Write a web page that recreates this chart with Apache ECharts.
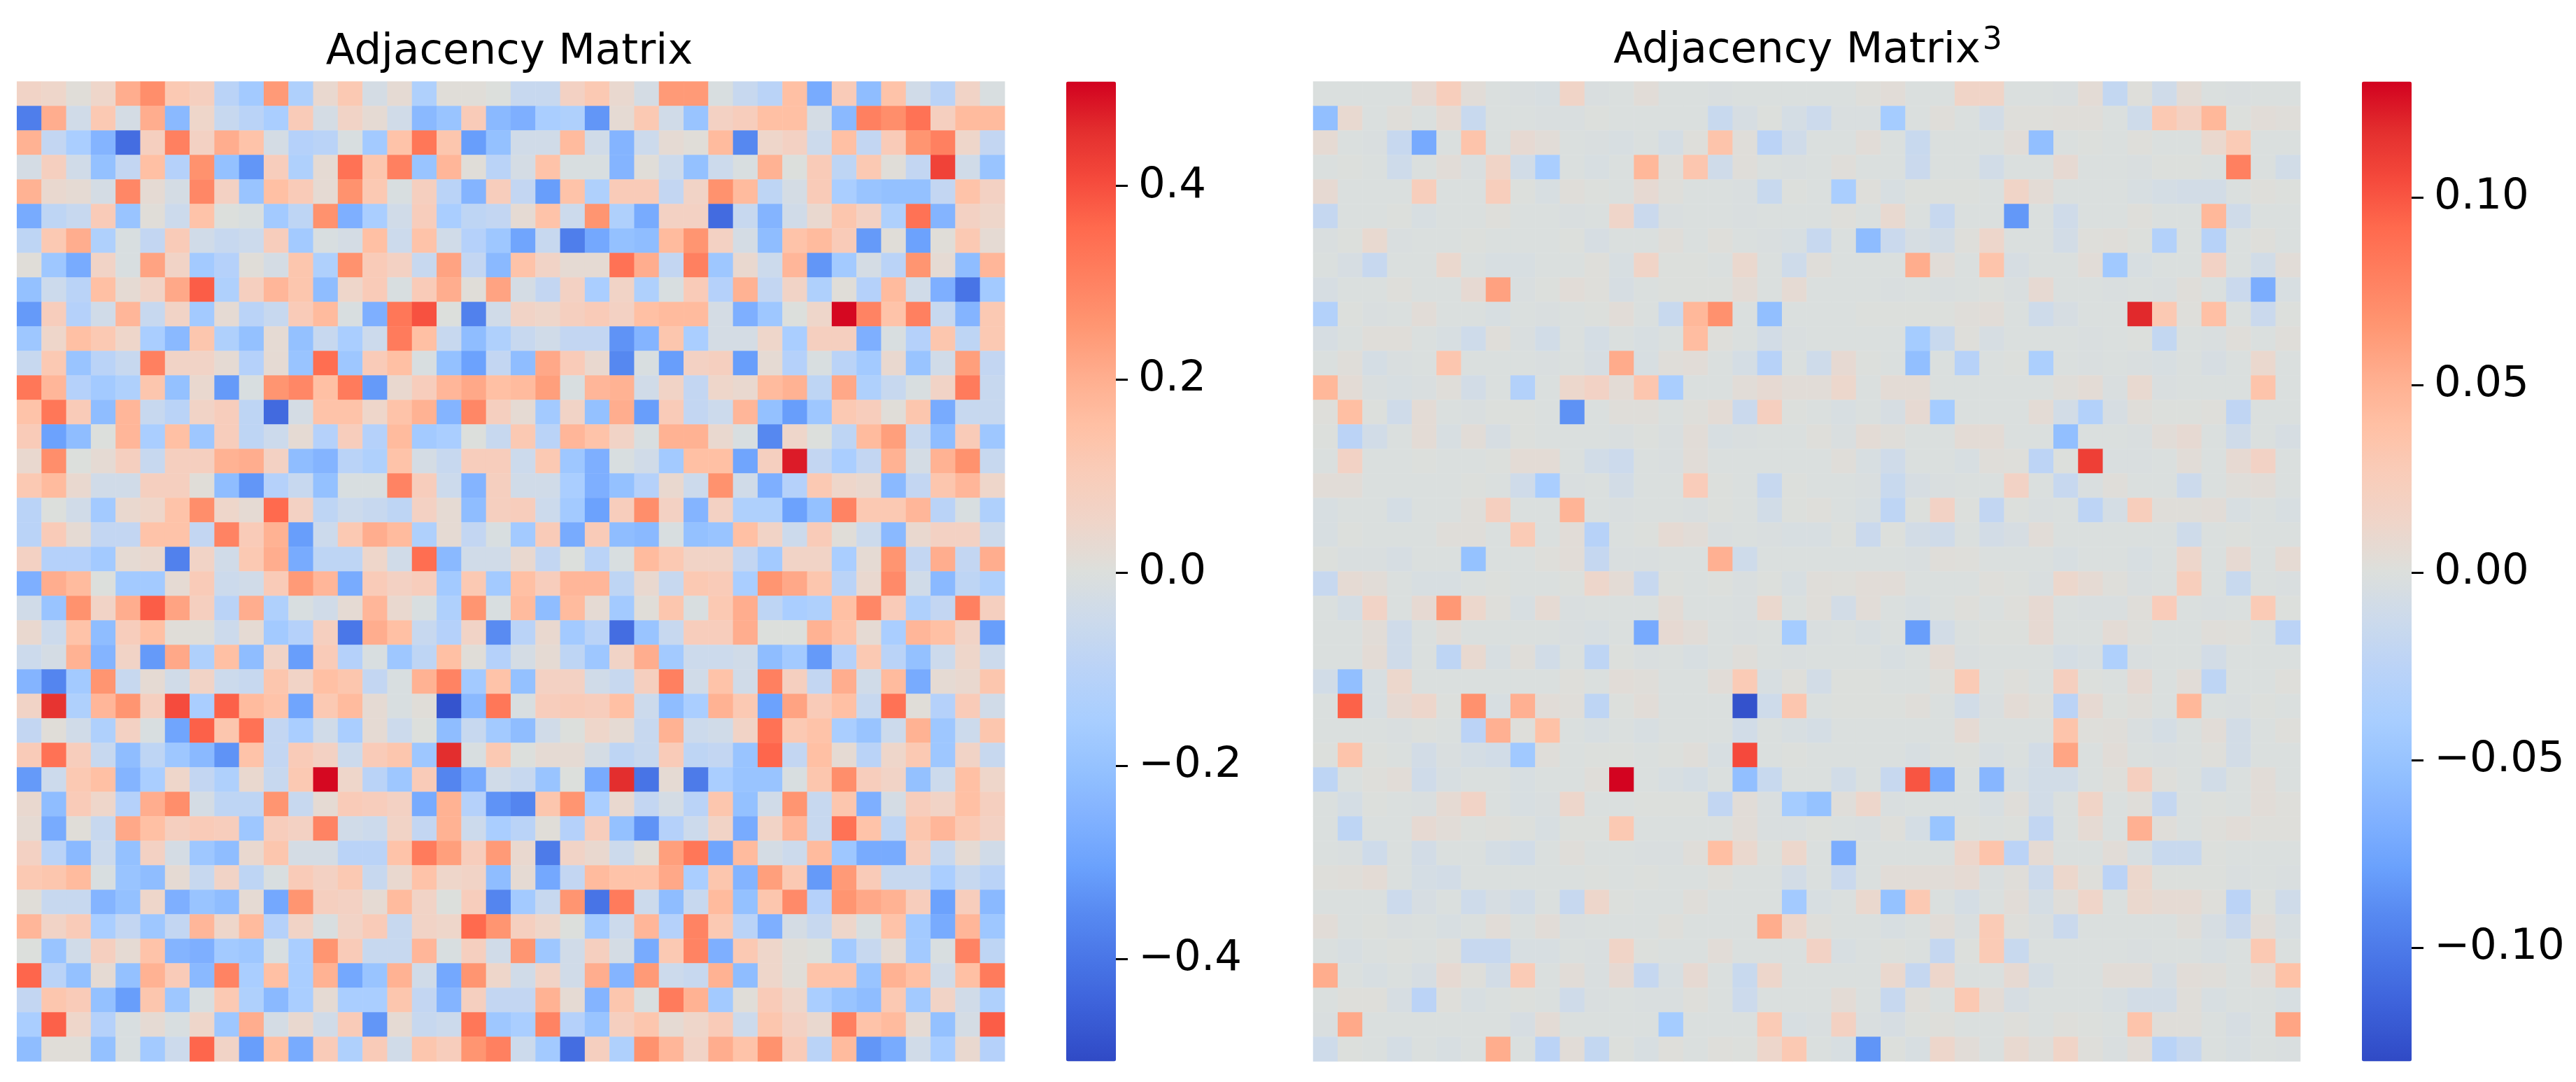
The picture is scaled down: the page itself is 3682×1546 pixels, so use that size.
<!DOCTYPE html>
<html>
<head>
<meta charset="utf-8">
<style>html,body{margin:0;padding:0;background:#fff}#c{width:3682px;height:1546px}</style>
<script src="https://cdn.jsdelivr.net/npm/echarts@6/dist/echarts.min.js"></script>
</head>
<body>
<div id="c"></div>
<script>
// Values: left panel in hundredths, right panel in thousandths.
const adjacencyRows = [
[5,4,1,4,17,24,10,7,-8,-12,21,-10,3,10,-2,2,-10,1,1,0,-5,-5,6,10,3,-2,21,21,-1,-5,-8,13,-20,9,-16,12,-3,-8,5,-1],
[-33,17,-3,10,-2,17,-17,4,-5,-8,-11,9,-2,5,2,-3,-17,-14,9,-17,-19,-11,-10,-26,2,10,-3,-14,6,8,13,13,-2,-17,28,24,31,7,14,14],
[16,-6,-11,-18,-40,7,28,6,17,12,-2,-9,-8,-1,-12,12,30,11,-24,-15,-3,-3,14,-3,-18,-4,2,1,14,-30,4,6,-4,13,-6,9,22,28,4,-6],
[-2,7,-3,-15,-6,13,-9,23,-15,-26,8,-10,2,31,11,28,-14,15,1,-8,-2,12,-1,-1,-18,1,-4,-15,-4,-1,16,0,9,-7,10,1,-6,42,-3,-14],
[16,3,2,-2,26,2,-2,26,6,-14,13,9,2,23,10,-1,7,-8,-18,8,-6,-24,12,-10,9,9,-6,5,23,14,-7,-2,9,-11,-14,-15,-15,-6,12,6],
[-20,-7,-5,9,-14,1,-4,12,0,-1,-12,-7,23,-19,-11,-3,8,-11,-7,-6,2,12,-4,22,-10,-20,6,6,-41,-5,-18,-3,3,11,6,-10,31,-18,6,4],
[-7,10,17,-10,-1,-6,9,-3,-5,-4,8,-12,-1,-2,13,-4,12,-3,-9,-13,-22,-5,-33,-21,-15,-16,14,22,6,-2,-16,12,14,9,-25,1,-23,1,10,2],
[1,-13,-20,5,-1,19,5,-12,-9,1,-2,11,-10,23,9,6,-5,19,-6,-17,12,5,2,2,31,17,-6,28,-13,3,-4,15,-26,-12,-2,-8,22,2,-16,15],
[-15,-4,-8,13,2,5,18,36,-10,7,15,11,-16,4,9,-1,9,17,1,19,-2,-6,6,-11,5,-10,-1,9,-9,16,-6,5,-10,1,-9,14,-3,-19,-36,-12],
[-25,8,-9,-3,15,-5,5,-12,2,-8,-5,9,14,-1,-19,30,39,0,-32,-3,5,4,7,9,6,13,14,14,-2,-19,-13,0,4,50,27,12,28,-5,-18,10],
[-13,4,13,10,4,-11,-17,11,-10,-15,2,-15,-5,-11,-4,29,13,-5,-16,-10,-5,-3,-6,-6,-27,-18,11,-11,-2,-2,4,-11,7,7,-19,-1,-9,11,-7,10],
[-5,10,-14,-8,-5,28,5,5,2,-9,2,-14,32,-13,9,13,-1,-15,-23,-6,-16,18,9,3,-30,-1,-24,6,7,-24,2,-9,-1,-8,-12,3,-14,-3,20,-6],
[30,15,-9,-12,-10,11,-15,3,-25,-1,22,26,13,29,-25,3,8,15,18,13,14,20,-1,15,16,-3,5,-6,4,3,14,16,-7,18,-10,-5,-1,5,29,-5],
[12,30,9,-16,15,-5,-8,5,8,-7,-42,-2,12,12,4,12,16,-18,26,7,2,-12,5,-15,17,-24,9,-6,-4,15,-15,-24,-13,10,8,1,11,-20,-5,-5],
[9,-23,-16,0,15,-11,13,-13,8,-7,-4,2,-9,8,-9,14,-12,-11,0,-5,10,-8,15,12,5,-1,16,16,3,-1,-30,4,0,-7,14,20,-5,-16,9,-13],
[3,24,0,2,7,-5,7,7,16,17,6,-16,-18,-8,-10,12,-2,-5,8,8,-4,10,-13,-19,-1,-3,-12,13,13,-22,7,48,-6,-11,-6,16,-2,16,23,-5],
[10,14,3,-3,-3,7,7,1,-16,-26,-9,-5,-15,-1,-1,27,8,-4,-18,7,-3,-3,-11,-19,-15,-9,3,-4,23,-3,-19,-9,10,4,3,-17,-6,11,15,4],
[-8,0,-3,-12,3,4,12,24,4,2,33,6,-7,-4,-5,-7,6,2,-16,7,8,-4,-12,-23,8,24,6,-18,6,-10,-10,-23,-15,27,10,10,15,-8,-1,-10],
[-8,9,2,-6,-6,12,12,-6,27,9,16,-24,-4,10,17,14,-10,2,-6,-1,-12,9,-20,9,-16,-17,-1,-15,-14,13,5,-4,9,1,-4,-17,3,6,6,-4],
[6,-9,-9,-12,2,3,-32,5,-3,10,17,-20,-7,-7,4,-3,32,-17,-3,-3,3,-6,0,-8,-1,14,10,5,5,-6,-12,5,5,-11,2,22,-6,17,-6,17],
[-19,17,14,0,-12,-12,2,9,-4,-3,9,21,15,-20,9,6,8,-12,10,-12,13,8,15,15,-7,3,-5,10,9,-11,22,18,11,-8,3,25,-3,-17,-7,-10],
[-3,-14,23,5,17,36,19,7,-8,17,-10,-1,-3,2,15,3,-1,-10,22,-1,14,-16,14,2,-12,1,11,-1,10,17,-7,-11,-10,13,26,9,-10,-6,28,7],
[3,-4,12,-16,8,13,1,1,-4,2,-12,-9,7,-35,17,13,-5,-9,5,-29,-8,3,-12,-8,-40,-14,-5,8,8,17,0,0,16,12,2,-11,15,13,5,-24],
[-4,-2,16,-18,5,-25,18,-10,13,-16,5,-24,9,-9,-1,-13,-7,13,1,-9,-2,2,-7,-13,5,17,-12,-4,-4,-3,-16,-12,-25,-9,10,-8,-15,-4,4,-4],
[-18,-31,-12,22,-5,2,-3,5,-4,-5,11,5,13,11,-6,-1,16,27,-12,12,-15,6,6,-3,-5,7,28,-3,12,-3,28,7,-6,17,-3,14,-20,2,3,11],
[5,45,-10,15,22,7,40,-11,35,14,12,-22,10,14,2,-1,1,-48,-17,30,-1,8,9,8,13,-4,-16,-11,16,10,-23,19,9,13,-5,31,1,-9,9,-3],
[-6,1,-3,-10,6,-1,-22,35,11,31,-6,-11,-3,-11,2,-4,0,-16,-5,-12,-16,-3,0,4,2,-5,16,-4,-3,5,31,10,12,-11,-14,-4,16,-13,-4,11],
[9,31,8,-5,-16,-7,-13,-17,-27,12,-6,9,6,-4,9,11,-13,46,-1,10,0,2,2,-2,-7,-5,9,-7,-6,-14,34,-6,13,2,-8,4,10,-13,5,-5],
[-25,-4,10,13,-18,-11,4,-6,-10,3,-5,10,50,4,-8,-13,9,-31,-20,-3,-5,-14,0,-20,46,-36,2,-34,-11,-14,-14,-1,11,24,8,5,-15,-4,13,4],
[3,-16,9,4,-9,17,24,-2,-7,-7,22,-5,2,9,8,6,-20,16,-9,-27,-31,11,22,-11,3,-6,-2,-8,11,-15,-3,22,-5,11,-19,-2,8,5,13,7],
[2,-20,1,-5,18,13,7,9,8,-13,8,6,27,-3,-4,5,-6,16,-4,-11,-8,1,-9,8,-15,-27,-9,-4,5,-20,5,15,-5,31,12,-7,11,15,10,6],
[6,-8,-17,-4,-15,6,-2,-13,-16,3,11,-2,-2,-8,-8,12,29,20,8,21,3,-34,5,3,-4,1,20,30,-22,14,-2,-4,14,-13,-20,-20,8,-5,2,-3],
[10,11,14,-1,-14,-16,2,-5,5,-7,-1,9,6,10,-5,3,12,4,5,-16,2,-21,-6,14,12,12,18,-11,11,-18,20,10,-25,21,9,-5,-5,-11,-5,-8],
[1,-5,-5,-18,-15,4,-19,-14,-16,2,-21,22,7,6,2,14,5,0,8,-31,-12,-5,22,-36,29,-4,-16,-5,14,-15,11,25,-9,22,18,16,8,-23,8,-17],
[15,5,9,-11,-6,-13,-6,15,4,14,-9,5,-1,5,9,-5,5,4,33,22,7,4,0,-12,-4,15,-9,27,10,-8,-19,-2,-5,4,-1,12,-12,-20,15,-13],
[0,-14,-3,7,2,12,-18,-19,-12,-13,-1,-11,22,9,-5,-5,15,-1,7,-3,22,-13,-3,7,-2,-20,10,27,-19,10,4,1,0,-12,-5,2,-12,-1,27,-7],
[34,-8,-15,2,-15,16,9,-17,27,-11,13,-11,16,-21,-14,16,-3,-21,22,4,-3,5,-3,17,-18,21,-4,-5,16,-16,4,1,12,12,-14,16,13,-3,13,29],
[-6,11,9,-15,-24,11,-13,-1,10,-10,-17,-11,2,-11,-11,11,-6,-18,7,-6,-6,16,2,-18,11,-1,29,16,-12,1,9,4,-11,-14,-16,10,-12,5,-3,-10],
[-11,35,4,-9,-1,2,-1,4,-13,17,-2,3,-3,9,-26,2,-5,-4,30,-13,-11,27,-9,-14,7,11,2,4,9,-4,11,6,3,28,12,14,2,-15,-2,36],
[-16,1,1,-15,-1,-12,-4,34,5,-24,13,-20,9,-10,9,-3,11,8,22,28,-4,-12,-40,7,-10,23,15,5,17,12,23,9,-8,14,-26,-20,-3,-11,3,-9]
];
const cubedRows = [
[-1,-1,-1,-1,6,20,3,-1,-2,-3,12,-2,-1,3,-1,-1,-2,-1,-1,-1,-1,-1,1,3,-1,-1,12,12,-1,-1,-2,4,-15,1,-8,4,-1,-2,-1,-1],
[-40,7,-1,2,-1,5,-12,-1,-1,-2,-2,0,-1,-1,-1,-1,-12,-4,0,-5,-10,-2,-2,-30,-1,2,-1,-6,1,1,2,2,-1,-9,26,16,38,0,3,2],
[5,-1,-2,-13,-52,-1,30,-1,6,3,-1,-2,-3,-1,-5,1,30,2,-20,-8,-1,-1,3,-1,-12,-1,-1,-1,3,-40,-1,0,-1,1,-1,-1,8,24,-1,-1],
[-1,0,-1,-9,-1,3,-2,12,-7,-28,-1,-3,-1,38,2,28,-8,2,-1,-2,-1,2,-1,-1,-11,-1,-1,-7,-1,-1,6,-1,-1,-2,0,0,-1,72,-1,-7],
[6,-1,-1,-1,20,-1,-1,20,0,-3,2,0,-1,6,1,-1,-1,-2,-12,0,-1,-28,1,-3,0,0,0,-1,12,4,-1,-1,-1,-3,-5,-6,-6,-1,1,0],
[-14,-1,-1,0,-3,-1,-1,1,-1,-1,-2,-1,11,-11,-2,-1,-1,-2,-1,-1,-1,1,-1,7,-1,-13,-1,-1,-66,-1,-8,-1,-1,1,-1,-1,38,-8,-1,-1],
[-2,0,7,-2,-1,-1,0,-1,-1,-1,0,-4,-1,-1,2,-1,1,-1,-2,-3,-13,-1,-42,-11,-4,-6,1,10,-1,-1,-6,1,2,0,-24,-1,-22,-1,1,-1],
[-1,-4,-13,-1,-1,8,-1,-3,-3,-1,-1,1,-3,12,0,0,-1,8,-1,-9,2,-1,-1,-1,44,3,-1,30,-4,-1,-1,3,-32,-3,-1,-1,14,-1,-7,3],
[-4,-1,-1,1,-1,-1,6,50,-2,0,3,1,-4,-1,0,0,0,4,-1,5,-1,-1,-1,-2,-1,-2,-1,0,-2,6,-1,-1,-2,-1,-2,2,-1,-11,-50,-3],
[-24,0,-2,-1,3,-1,-1,-3,-1,-2,-1,0,3,-1,-12,38,60,-1,-40,-1,-1,-1,0,0,0,0,2,3,-1,-9,-4,-1,-1,120,26,1,33,-1,-11,0],
[-4,-1,2,2,-1,-3,-9,2,-2,-7,-1,-5,-1,-3,-1,35,1,-1,-6,-2,-1,-1,-1,-1,-30,-12,1,-4,-1,-1,-1,-2,-1,0,-15,-1,-2,2,-1,2],
[-1,2,-5,-2,-1,28,-1,-1,-1,-2,-1,-4,45,-3,2,3,-1,-5,-22,-1,-9,6,0,-1,-40,-1,-22,-1,0,-27,-1,-2,-1,-2,-3,-1,-4,-1,8,-1],
[38,4,-2,-3,-2,2,-6,-1,-24,-1,9,14,4,28,-28,-1,-1,3,6,3,3,9,-1,4,4,-1,-1,-1,-1,-1,2,4,-2,7,-2,-1,-1,-1,30,-1],
[1,34,0,-8,4,-1,-2,0,0,-1,-70,-1,2,2,-1,1,4,-11,18,0,-1,-3,-1,-4,6,-30,-1,-1,-1,4,-6,-24,-4,2,0,0,1,-17,-1,-1],
[0,-20,-7,-1,4,-3,3,-4,0,-1,-1,-1,-2,0,-2,3,-3,-2,-1,-1,1,-2,4,2,-1,-1,4,4,-1,-1,-40,-1,-1,-2,3,6,-1,-8,-1,-4],
[-1,14,-1,-1,0,-1,-1,0,4,4,-1,-7,-10,-1,-2,3,-1,-1,-1,-1,-1,2,-3,-8,-1,-1,-3,2,1,-19,0,110,-2,-2,-1,3,-1,6,14,-1],
[3,3,-1,-1,-1,-1,0,-1,-8,-28,-2,-1,-6,-1,-1,22,0,-1,-13,0,-1,-1,-2,-12,-4,-2,-1,-1,14,-1,-13,-2,2,-1,-1,-10,-1,2,3,-1],
[-3,-1,-1,-5,-1,-1,2,18,-1,-1,40,-1,-2,-1,-1,-2,0,-1,-7,0,1,-1,-3,-18,0,14,0,-16,0,-2,-1,-19,-5,20,2,2,3,-3,-1,-3],
[-3,0,-1,-1,-1,2,2,-1,24,-1,3,-22,-1,0,5,3,-2,-1,-2,-3,-3,0,-11,0,-6,-8,-1,-6,-4,3,-1,-1,-1,-1,-1,-9,-1,0,-1,-1],
[0,-2,-2,-4,-1,-1,-38,-1,-1,1,3,-14,-2,-2,-1,-1,42,-9,-1,-1,-1,-1,-1,-1,-2,2,1,-1,-1,-1,-3,-1,-1,-3,-1,10,-1,6,-1,5],
[-13,5,3,-1,-3,-3,-1,0,-1,-1,0,10,4,-13,0,-1,0,-2,0,-3,2,1,3,3,-1,-1,-1,1,0,-2,9,5,1,-2,-1,20,-1,-12,-1,-2],
[-1,-5,13,-1,6,55,9,1,-3,5,-2,-1,-1,-1,4,-1,-1,-2,8,-1,2,-6,3,-1,-3,-1,1,-1,1,6,-1,-2,-2,2,22,-1,-2,-1,24,0],
[-1,-1,3,-8,-1,3,-1,-1,-1,-1,-2,-3,-1,-52,6,3,-1,-2,-1,-30,-2,-1,-3,-1,-62,-6,-1,0,0,6,-1,-1,4,1,-1,-1,2,1,-1,-20],
[-1,-1,4,-8,-1,-18,7,-3,2,-7,-1,-18,0,-2,-1,-3,-1,2,-1,-2,-1,-1,-1,-3,-1,4,-2,-1,-1,-1,-5,-3,-26,-2,-1,-1,-6,-1,-1,-1],
[-7,-40,-3,9,-1,-1,-1,-1,-1,-1,1,-1,3,2,-1,-1,3,24,-3,1,-6,0,0,-1,-1,1,24,-1,1,-1,18,0,-1,6,-1,3,-18,-1,-1,1],
[-1,90,-3,6,10,0,60,-3,42,3,2,-18,0,3,-1,-1,-1,-125,-9,28,-1,0,0,0,2,-1,-7,-2,4,1,-20,6,0,2,-1,38,-1,-2,0,-1],
[-1,-1,-1,-2,0,-1,-20,42,1,32,-1,-3,-1,-3,-1,-1,-1,-7,-1,-3,-5,-1,-1,-1,-1,-1,5,-1,-1,-1,30,1,2,-2,-5,-1,3,-6,-1,1],
[0,30,0,-1,-6,-2,-5,-7,-32,2,-1,0,0,-1,0,2,-3,104,-1,0,-1,-1,-1,-1,-3,-1,0,-3,-1,-6,48,-1,3,-1,-2,-1,1,-6,-1,-1],
[-18,-1,1,3,-8,-3,-1,-1,-3,-1,-1,2,130,-1,-3,-5,-1,-40,-12,-1,-1,-7,-1,-13,98,-52,-1,-45,-3,-7,-7,-1,1,18,1,-1,-7,-1,3,-1],
[-1,-5,0,-1,-2,5,13,-1,-3,-2,10,-1,-1,0,0,0,-16,3,-2,-30,-38,2,10,-2,-1,-1,-1,-3,2,-7,-1,12,-1,2,-14,-1,0,-1,3,1],
[-1,-18,-1,-1,6,3,0,1,0,-3,0,0,26,-1,-1,-1,-1,3,-2,-2,0,-1,-2,1,-5,-36,0,-1,0,-16,-1,5,-1,42,2,-1,1,3,1,1],
[-1,-2,-9,-1,-6,-1,-1,-5,-7,-1,2,-1,-1,-2,-2,2,34,8,0,9,-1,-50,-1,-1,-1,-1,10,30,-20,5,-1,-1,3,-3,-12,-12,0,-1,-1,-1],
[1,2,4,-1,-5,-6,-1,-1,-1,-1,-1,0,-1,0,-1,-1,1,-1,-1,-6,-1,-11,-1,3,3,3,5,-2,2,-10,9,1,-20,9,0,0,0,-2,-1,-2],
[-1,-1,-1,-10,-4,-1,-9,-4,-7,-1,-13,10,0,-1,-1,2,-1,-1,-1,-31,-3,-1,8,-38,26,-1,-5,-1,3,-5,2,11,-1,8,5,5,1,-20,0,-8],
[3,-1,0,-2,-1,-3,-1,3,-1,3,-2,-1,-1,-1,1,-1,-1,-1,44,10,1,-1,-1,-3,-1,3,-2,24,1,-2,-11,-1,-1,-1,-1,2,-4,-11,3,-3],
[-1,-3,-1,0,-1,1,-13,-13,-3,-3,-1,-2,12,0,-1,-1,3,-1,-1,-1,14,-3,-1,0,-1,-14,0,24,-12,-1,-1,-1,-1,-2,-1,-1,-3,-1,26,-1],
[44,-1,-3,-1,-4,6,1,-6,24,-1,3,-2,6,-14,-3,6,-1,-12,10,-1,-1,-1,-1,8,-14,10,-1,-1,6,-5,-1,-1,3,3,-4,3,2,-1,3,32],
[-1,1,1,-4,-20,1,-3,-1,0,-1,-8,-2,-1,-2,-2,1,-1,-10,-1,-1,-1,4,-1,-13,2,-1,26,4,-4,-1,-1,-1,-3,-6,-6,2,-3,-1,-1,-3],
[-2,46,-1,-1,-1,-1,-1,-1,-4,4,-1,-1,-1,-1,-30,-1,-1,-1,24,-3,-2,16,-2,-4,0,1,-1,-1,1,-1,1,0,-1,30,2,2,-1,-4,-1,48],
[-9,0,-1,-5,-1,-3,-1,44,-1,-20,3,-15,0,-3,1,-1,1,0,10,26,-1,-3,-68,0,-3,10,3,-1,7,2,12,1,-2,3,-21,-13,-1,-3,-1,-2]
];
const adjacencyUnit = 0.01;
const cubedUnit = 0.001;
const adjacencyMax = 0.507;
const cubedMax = 0.1306;
const adjacencyTicks = [-0.4, -0.2, 0, 0.2, 0.4];
const cubedTicks = [-0.10, -0.05, 0, 0.05, 0.10];
const titleLeft = 'Adjacency Matrix';
const titleRight = 'Adjacency Matrix';
const titleRightPower = '3';
const barColors = ['#304ac5','#3b5fd8','#4874e6','#5789f1','#6ba2fd','#82b2ff','#95c2ff','#a9ceff','#bad3f7','#ccdaec','#dcdfdc','#efd5c9','#f9ccb9','#ffc0a4','#ffad8e','#ff9672','#ff8060','#ff6a4e','#f54a3c','#e32e2e','#d2011f'];
// Colour-bar lookup: how a shade judged by eye lines up with its place on the bar.
const shadeRead = [-1,-0.83,-0.71,-0.61,-0.49,-0.39,-0.316,-0.237,-0.158,-0.1,0,0.1,0.2,0.335,0.43,0.55,0.65,0.77,0.89,1];
const shadeBar  = [-1,-0.85,-0.8,-0.72,-0.63,-0.54,-0.43,-0.33,-0.2,-0.13,0,0.12,0.23,0.4,0.5,0.6,0.7,0.78,0.88,1];

function onBar(n){
  n = Math.max(-1, Math.min(1, n));
  for (let i = 1; i < shadeRead.length; i++) {
    if (n <= shadeRead[i]) {
      const t = (n - shadeRead[i-1]) / (shadeRead[i] - shadeRead[i-1]);
      return shadeBar[i-1] + t * (shadeBar[i] - shadeBar[i-1]);
    }
  }
  return 1;
}
function cells(rows, unit, vmax){
  const out = [];
  rows.forEach((r, y) => r.forEach((v, x) => out.push([x, y, onBar(v * unit / vmax) * vmax])));
  return out;
}
const cols = adjacencyRows[0].map((_, i) => String(i));
const font = 'DejaVu Sans';
const minus = (s) => s.replace('-', '\u2212');
const cbAxis = (grid, vmax, ticks, digits) => ({
  type: 'value', gridIndex: grid, position: 'right', min: -vmax, max: vmax,
  axisLine: {show: false, onZero: false}, splitLine: {show: false},
  axisTick: {show: true, length: 17, lineStyle: {color: '#000', width: 3}, customValues: ticks},
  axisLabel: {show: true, margin: 32, fontSize: 61, fontFamily: font, color: '#000', customValues: ticks, padding: [12,0,0,0],
    formatter: (v) => minus(Number(v).toFixed(digits))}
});
const hiddenCat = (grid, inverse) => ({type: 'category', gridIndex: grid, data: cols, inverse, show: false,
  axisLine:{show:false}, axisTick:{show:false}, axisLabel:{show:false}, splitLine:{show:false}});
const vm = (idx, vmax, left) => ({
  type: 'continuous', seriesIndex: idx, dimension: 2, min: -vmax, max: vmax, calculable: false, hoverLink: false,
  orient: 'vertical', left, top: 116.5, itemWidth: 71, itemHeight: 1400, padding: 0, text: null, showLabel: false,
  inRange: {color: barColors}
});
const titleStyle = {fontFamily: font, fontSize: 61, color: '#000', fontWeight: 'normal'};
const chart = echarts.init(document.getElementById('c'), null, {renderer: 'canvas'});
chart.setOption({
  animation: false,
  backgroundColor: '#fff',
  title: [
    {text: titleLeft, left: 723, top: 40, textAlign: 'center', textStyle: titleStyle},
    {text: '{m|' + titleRight + '}{s|' + titleRightPower + '}', left: 2579, top: 32, textAlign: 'center',
      textStyle: {fontFamily: font, fontWeight: 'normal', rich: {
        m: {fontFamily: font, fontWeight: 'normal', fontSize: 61, color: '#000', lineHeight: 72},
        s: {fontFamily: font, fontWeight: 'normal', fontSize: 44, color: '#000', verticalAlign: 'top', lineHeight: 32, padding: [0,0,0,3]}
      }}}
  ],
  grid: [
    {left: 24.2, top: 116.5, width: 1412, height: 1400},
    {left: 1877, top: 116.5, width: 1411, height: 1400},
    {left: 1524, top: 118, width: 71, height: 1400},
    {left: 3376, top: 118, width: 71, height: 1400}
  ],
  xAxis: [hiddenCat(0,false), hiddenCat(1,false),
    {type:'value', gridIndex:2, show:false, min:0, max:1},
    {type:'value', gridIndex:3, show:false, min:0, max:1}],
  yAxis: [hiddenCat(0,true), hiddenCat(1,true),
    cbAxis(2, adjacencyMax, adjacencyTicks, 1),
    cbAxis(3, cubedMax, cubedTicks, 2)],
  visualMap: [vm(0, adjacencyMax, 1524), vm(1, cubedMax, 3376)],
  series: [
    {type: 'heatmap', name: 'Adjacency Matrix', xAxisIndex: 0, yAxisIndex: 0, data: cells(adjacencyRows, adjacencyUnit, adjacencyMax), progressive: 0, silent: true},
    {type: 'heatmap', name: 'Adjacency Matrix cubed', xAxisIndex: 1, yAxisIndex: 1, data: cells(cubedRows, cubedUnit, cubedMax), progressive: 0, silent: true},
    {type: 'scatter', xAxisIndex: 2, yAxisIndex: 2, data: [], silent: true},
    {type: 'scatter', xAxisIndex: 3, yAxisIndex: 3, data: [], silent: true}
  ]
});
</script>
</body>
</html>
